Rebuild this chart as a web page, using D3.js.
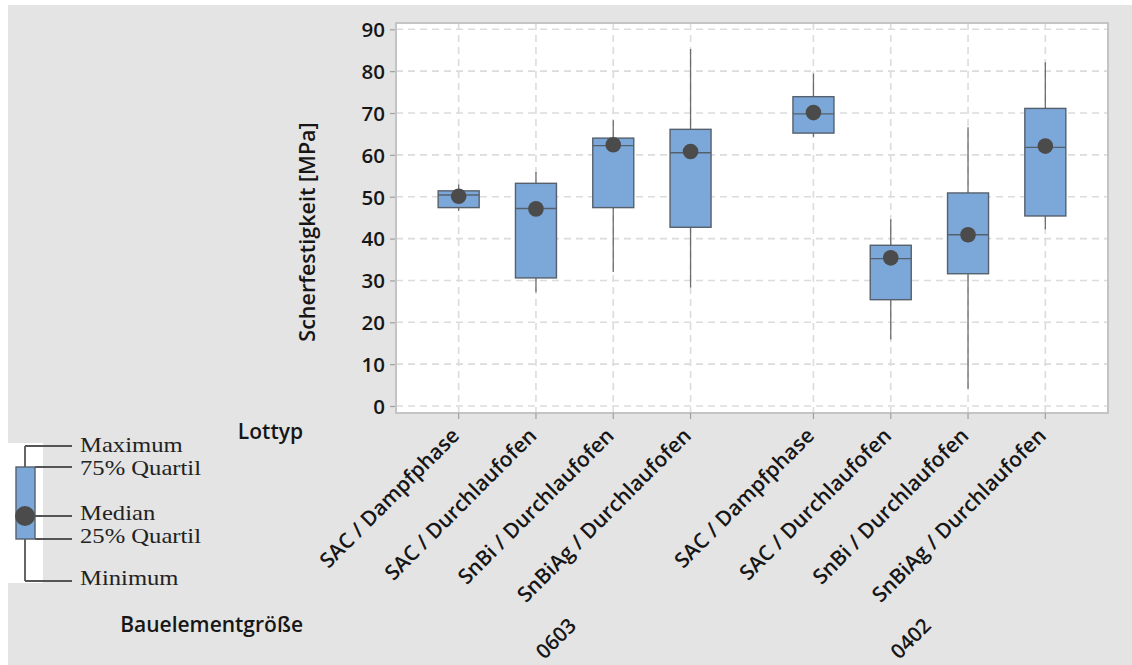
<!DOCTYPE html>
<html>
<head>
<meta charset="utf-8">
<script src="https://cdn.jsdelivr.net/npm/d3@7"></script>
<style>
  html, body { margin: 0; padding: 0; background: #ffffff; }
  svg { display: block; }
  .lbl { font-family: "Open Sans", "Noto Sans", sans-serif; font-weight: 600; fill: #161616; }
  .leg { font-family: "Liberation Serif", "DejaVu Serif", serif; fill: #222222; }
</style>
</head>
<body>
<svg id="chart" width="1132" height="665"></svg>
<script>
// Bauelementgröße (outer grouping) and Lottyp (inner categories)
const groups = ["0603", "0402"];
const lottyp = ["SAC / Dampfphase", "SAC / Durchlaufofen", "SnBi / Durchlaufofen", "SnBiAg / Durchlaufofen"];

// Box statistics per cell, ordered 0603 (4 Lottypen) then 0402 (4 Lottypen), in MPa
const minVals    = [46.6, 27.2, 32.0, 28.3, 64.3, 15.9,  4.1, 42.2];
const q1Vals     = [47.4, 30.6, 47.4, 42.7, 65.2, 25.4, 31.6, 45.4];
const medianVals = [50.4, 47.2, 62.2, 60.5, 69.8, 35.2, 40.9, 61.8];
const q3Vals     = [51.4, 53.2, 64.0, 66.1, 73.9, 38.4, 50.9, 71.1];
const maxVals    = [52.9, 55.9, 68.3, 85.3, 79.4, 44.6, 66.6, 82.1];
const meanVals   = [50.1, 47.1, 62.4, 60.8, 70.1, 35.4, 40.9, 62.1];

const yTicks = [0, 10, 20, 30, 40, 50, 60, 70, 80, 90];

const rows = [];
groups.forEach((g, gi) => lottyp.forEach((l, li) => {
  const i = gi * lottyp.length + li;
  rows.push({ group: g, lot: l, min: minVals[i], q1: q1Vals[i], median: medianVals[i],
              q3: q3Vals[i], max: maxVals[i], mean: meanVals[i] });
}));

const svg = d3.select("#chart");
const W = 1132, H = 665;
const plot = { left: 396, right: 1108, top: 23, bottom: 413 };

// page background
svg.append("rect").attr("x", 8).attr("y", 5).attr("width", W - 8).attr("height", H - 5).attr("fill", "#e4e4e4");
svg.append("rect").attr("x", 8).attr("y", 443).attr("width", 35).attr("height", 140).attr("fill", "#ffffff");

// scales
const xGroup = d3.scaleBand().domain(groups).range([plot.left, plot.right])
  .paddingInner(0.1285).paddingOuter(0.0677);
const xLot = d3.scalePoint().domain(lottyp).range([0, xGroup.bandwidth()]).padding(0.5);
const xPos = d => xGroup(d.group) + xLot(d.lot);
const y = d3.scaleLinear().domain([0, 90]).range([406, 29.3]);

// plot panel
svg.append("rect").attr("x", plot.left).attr("y", plot.top)
  .attr("width", plot.right - plot.left).attr("height", plot.bottom - plot.top)
  .attr("fill", "#ffffff");

// dashed grid
const grid = svg.append("g").attr("stroke", "#dcdcdc").attr("stroke-width", 1.6).attr("stroke-dasharray", "7,5");
grid.selectAll("line.h").data(yTicks).join("line").attr("class", "h")
  .attr("x1", plot.left).attr("x2", plot.right)
  .attr("y1", d => y(d)).attr("y2", d => y(d));
grid.selectAll("line.v").data(rows).join("line").attr("class", "v")
  .attr("x1", d => xPos(d)).attr("x2", d => xPos(d))
  .attr("y1", plot.top).attr("y2", plot.bottom);

// panel border
svg.append("rect").attr("x", plot.left).attr("y", plot.top)
  .attr("width", plot.right - plot.left).attr("height", plot.bottom - plot.top)
  .attr("fill", "none").attr("stroke", "#c4c4c4").attr("stroke-width", 2);

// y axis
const yAxis = d3.axisLeft(y).tickValues(yTicks).tickSize(5).tickPadding(5).tickFormat(d3.format("d"));
const yg = svg.append("g").attr("transform", `translate(${plot.left - 1},0)`).call(yAxis);
yg.select(".domain").remove();
yg.selectAll(".tick line").attr("stroke", "#a0a0a0").attr("stroke-width", 1.2);
yg.selectAll(".tick text").attr("class", "lbl").style("font-size", "20.5px").attr("dy", "0.36em");

// x ticks
svg.append("g").selectAll("line").data(rows).join("line")
  .attr("x1", d => xPos(d)).attr("x2", d => xPos(d))
  .attr("y1", plot.bottom).attr("y2", plot.bottom + 6)
  .attr("stroke", "#a0a0a0").attr("stroke-width", 1.2);

// boxes
const boxW = 41;
const boxes = svg.append("g").selectAll("g").data(rows).join("g");
boxes.append("line")
  .attr("x1", d => xPos(d)).attr("x2", d => xPos(d))
  .attr("y1", d => y(d.max)).attr("y2", d => y(d.q3))
  .attr("stroke", "#6e6e6e").attr("stroke-width", 1.3);
boxes.append("line")
  .attr("x1", d => xPos(d)).attr("x2", d => xPos(d))
  .attr("y1", d => y(d.q1)).attr("y2", d => y(d.min))
  .attr("stroke", "#6e6e6e").attr("stroke-width", 1.3);
boxes.append("rect")
  .attr("x", d => xPos(d) - boxW / 2).attr("width", boxW)
  .attr("y", d => y(d.q3)).attr("height", d => y(d.q1) - y(d.q3))
  .attr("fill", "#7ca7d9").attr("stroke", "#56606c").attr("stroke-width", 1.4);
boxes.append("line")
  .attr("x1", d => xPos(d) - boxW / 2).attr("x2", d => xPos(d) + boxW / 2)
  .attr("y1", d => y(d.median)).attr("y2", d => y(d.median))
  .attr("stroke", "#56606c").attr("stroke-width", 1.4);
boxes.append("circle")
  .attr("cx", d => xPos(d)).attr("cy", d => y(d.mean)).attr("r", 7.8)
  .attr("fill", "#4b4b4b");

// category labels (Lottyp)
svg.append("g").selectAll("text").data(rows).join("text")
  .attr("class", "lbl").style("font-size", "21px")
  .attr("text-anchor", "end")
  .attr("transform", d => `translate(${xPos(d) + 2},437) rotate(-45)`)
  .text(d => d.lot);

// group labels (Bauelementgröße)
svg.append("g").selectAll("text").data(groups).join("text")
  .attr("class", "lbl").style("font-size", "20.5px")
  .attr("text-anchor", "end")
  .attr("transform", d => `translate(${xGroup(d) + xGroup.bandwidth() / 2 + 3},627) rotate(-45)`)
  .text(d => d);

// axis titles
svg.append("text").attr("class", "lbl").style("font-size", "21.5px")
  .attr("text-anchor", "middle")
  .attr("transform", "translate(315,232) rotate(-90)")
  .text("Scherfestigkeit [MPa]");
svg.append("text").attr("class", "lbl").style("font-size", "21px")
  .attr("text-anchor", "end").attr("x", 303).attr("y", 439).text("Lottyp");
svg.append("text").attr("class", "lbl").style("font-size", "21px")
  .attr("text-anchor", "end").attr("x", 303).attr("y", 632).text("Bauelementgröße");

// box-plot key
const key = svg.append("g");
const kc = "#555555";
const keyLines = [
  [25, 446, 72, 446], [25, 446, 25, 581], [25, 581, 72, 581],
  [35, 467, 72, 467], [35, 539, 72, 539], [25, 516, 72, 516]
];
key.selectAll("line").data(keyLines).join("line")
  .attr("x1", d => d[0]).attr("y1", d => d[1]).attr("x2", d => d[2]).attr("y2", d => d[3])
  .attr("stroke", kc).attr("stroke-width", 1.8);
key.append("rect").attr("x", 16).attr("y", 467).attr("width", 19).attr("height", 72)
  .attr("fill", "#7ca7d9").attr("stroke", "#56606c").attr("stroke-width", 1.4);
key.append("line").attr("x1", 25).attr("x2", 72).attr("y1", 516).attr("y2", 516)
  .attr("stroke", kc).attr("stroke-width", 1.8);
key.append("circle").attr("cx", 25).attr("cy", 516).attr("r", 10).attr("fill", "#4b4b4b");
const keyText = [["Maximum", 452], ["75% Quartil", 475], ["Median", 520], ["25% Quartil", 543], ["Minimum", 585]];
key.selectAll("text").data(keyText).join("text")
  .attr("class", "leg").style("font-size", "22px")
  .attr("transform", d => `translate(80,${d[1]}) scale(1.12,1)`)
  .text(d => d[0]);
</script>
</body>
</html>
